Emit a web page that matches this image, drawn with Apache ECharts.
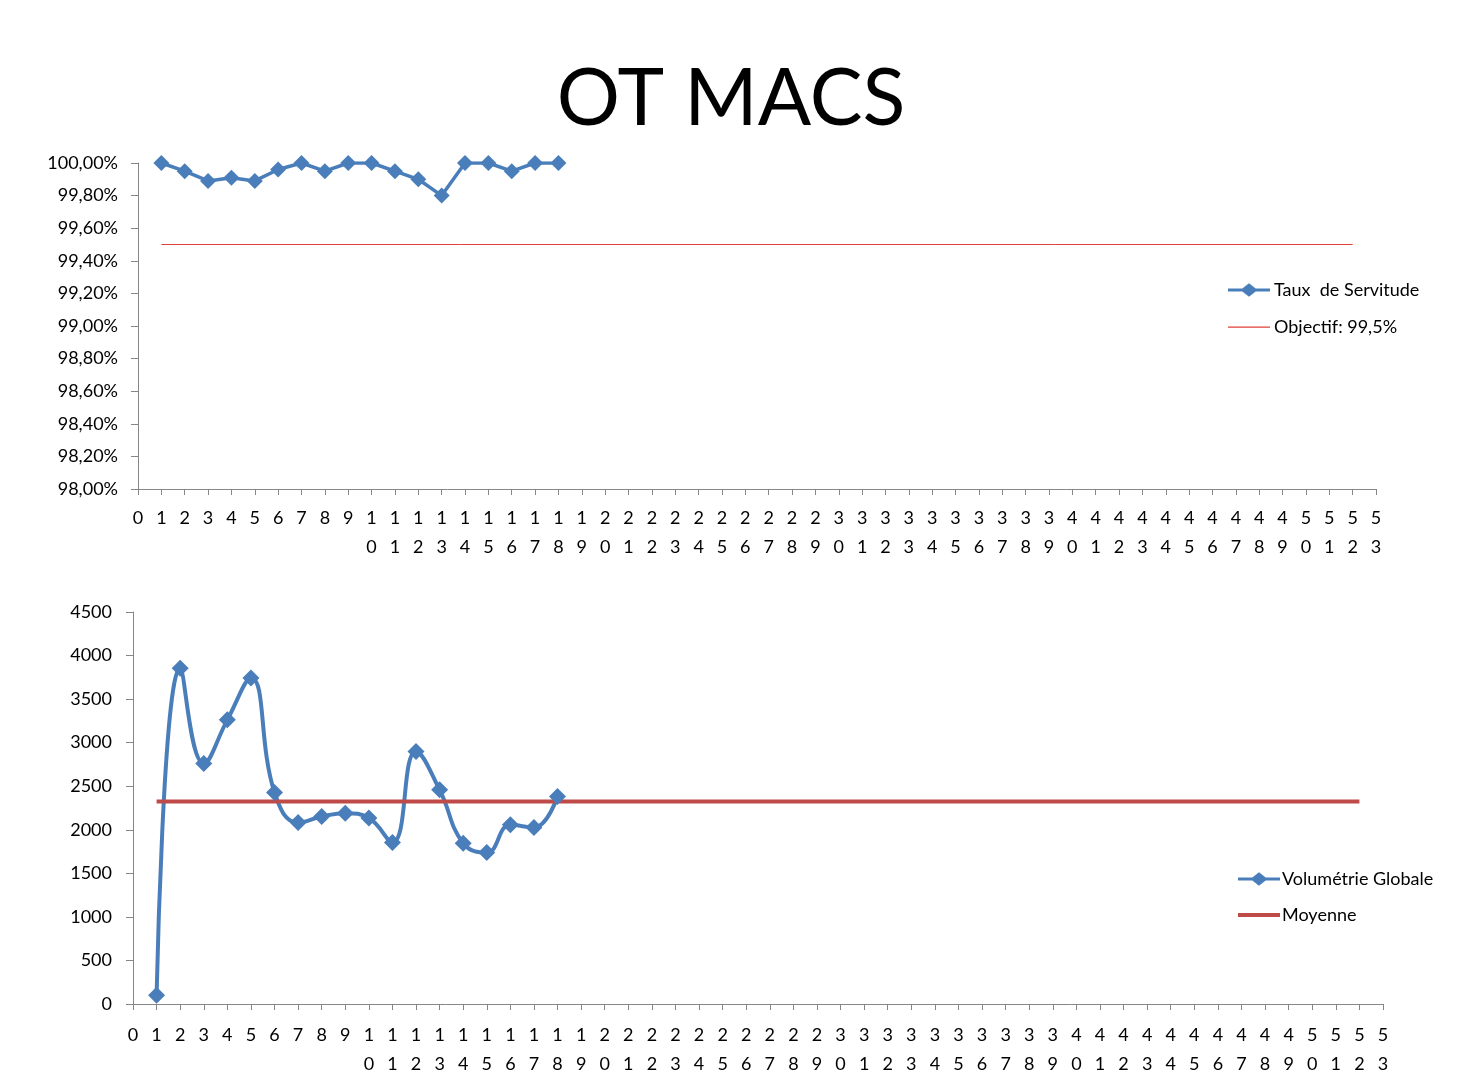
<!DOCTYPE html>
<html>
<head>
<meta charset="utf-8">
<script src="https://cdn.jsdelivr.net/npm/echarts@6/dist/echarts.min.js"></script>
<style>html,body{margin:0;padding:0;background:#fff}#c{width:1462px;height:1080px}</style>
</head>
<body>
<div id="c"></div>
<script>
// Category labels (weeks 0..53)
var categories = ['0','1','2','3','4','5','6','7','8','9','10','11','12','13','14','15','16','17','18','19','20','21','22','23','24','25','26','27','28','29','30','31','32','33','34','35','36','37','38','39','40','41','42','43','44','45','46','47','48','49','50','51','52','53'];

// Top chart: Taux de Servitude (%), weeks 1..18
var tauxWeeks = ['1','2','3','4','5','6','7','8','9','10','11','12','13','14','15','16','17','18'];
var tauxValues = [100.00, 99.95, 99.89, 99.91, 99.89, 99.96, 100.00, 99.95, 100.00, 100.00, 99.95, 99.90, 99.80, 100.00, 100.00, 99.95, 100.00, 100.00];
// Objective line 99,5% from week 1 to week 52
var objectifLine = [['1', 99.5], ['52', 99.5]];

// Bottom chart: Volumétrie Globale, weeks 1..18
var volumeValues = [100, 3855, 2760, 3262, 3742, 2428, 2083, 2152, 2191, 2134, 1853, 2899, 2459, 1846, 1738, 2057, 2026, 2382];
// Moyenne line from week 1 to week 52
var moyenneLine = [['1', 2325], ['52', 2325]];

var FONT = 'Lato';
var FS = 18;
var blue = '#4A7EBB';
var axisGray = '#868686';
var objRed = '#E0403A';
var moyRed = '#BE4B48';

var iconLineDiamond = 'path://M0,5.5L15,5.5L22,0L29,5.5L44,5.5L44,8.5L29,8.5L22,14L15,8.5L0,8.5Z';
var iconThin = 'path://M0,0L0.01,0L0,0Z M0,6.5L44,6.5L44,7.7L0,7.7Z M44,14L43.99,14L44,14Z';
var iconThick = 'path://M0,0L0.01,0L0,0Z M0,5L44,5L44,9L0,9Z M44,14L43.99,14L44,14Z';

function stackDigits(v) { return String(v).split('').join('\n'); }

function xAxisCfg(gridIndex, margin) {
  return {
    type: 'category', gridIndex: gridIndex, data: categories, boundaryGap: false,
    axisLine: { lineStyle: { color: axisGray, width: 1 } },
    axisTick: { alignWithLabel: true, length: 6, lineStyle: { color: axisGray } },
    axisLabel: { interval: 0, formatter: stackDigits, color: '#000', fontFamily: FONT, fontSize: FS, lineHeight: 29, margin: margin, verticalAlign: 'top' },
    splitLine: { show: false }
  };
}

var chart = echarts.init(document.getElementById('c'), null, { renderer: 'canvas' });
chart.setOption({
  animation: false,
  backgroundColor: '#fff',
  title: {
    text: 'OT MACS', left: 'center', top: 55,
    textStyle: { fontFamily: FONT, fontSize: 79, fontWeight: 'normal', color: '#000' }
  },
  grid: [
    { left: 138, right: 86, top: 163, bottom: 591, containLabel: false },
    { left: 133, right: 79, top: 612, bottom: 76, containLabel: false }
  ],
  legend: [
    { orient: 'vertical', left: 1228, top: 281, padding: 0, itemGap: 19, itemWidth: 42, itemHeight: 14,
      data: [
        { name: 'Taux  de Servitude', icon: iconLineDiamond },
        { name: 'Objectif: 99,5%', icon: iconThin }
      ],
      textStyle: { fontFamily: FONT, fontSize: FS, lineHeight: 14, color: '#000', padding: [0,0,0,-1] } },
    { orient: 'vertical', left: 1238, top: 870, padding: 0, itemGap: 18, itemWidth: 42, itemHeight: 14,
      data: [
        { name: 'Volumétrie Globale', icon: iconLineDiamond },
        { name: 'Moyenne', icon: iconThick }
      ],
      textStyle: { fontFamily: FONT, fontSize: FS, lineHeight: 14, color: '#000', padding: [0,0,0,-3] } }
  ],
  xAxis: [ xAxisCfg(0, 15), xAxisCfg(1, 17) ],
  yAxis: [
    { type: 'value', gridIndex: 0, min: 98, max: 100, interval: 0.2,
      axisLine: { show: true, lineStyle: { color: axisGray } },
      axisTick: { show: true, length: 7, lineStyle: { color: axisGray } },
      axisLabel: { formatter: function (v) { return v.toFixed(2).replace('.', ',') + '%'; }, color: '#000', fontFamily: FONT, fontSize: FS, margin: 20 },
      splitLine: { show: false } },
    { type: 'value', gridIndex: 1, min: 0, max: 4500, interval: 500,
      axisLine: { show: true, lineStyle: { color: axisGray } },
      axisTick: { show: true, length: 7, lineStyle: { color: axisGray } },
      axisLabel: { formatter: function (v) { return String(v); }, color: '#000', fontFamily: FONT, fontSize: FS, margin: 21 },
      splitLine: { show: false } }
  ],
  series: [
    { name: 'Taux  de Servitude', type: 'line', xAxisIndex: 0, yAxisIndex: 0,
      data: tauxWeeks.map(function (w, i) { return [w, tauxValues[i]]; }),
      symbol: 'diamond', symbolSize: 16, showAllSymbol: true,
      lineStyle: { color: blue, width: 3.5 }, itemStyle: { color: blue } },
    { name: 'Objectif: 99,5%', type: 'line', xAxisIndex: 0, yAxisIndex: 0,
      data: objectifLine, symbol: 'none',
      lineStyle: { color: objRed, width: 1 }, itemStyle: { color: objRed } },
    { name: 'Volumétrie Globale', type: 'line', xAxisIndex: 1, yAxisIndex: 1,
      data: tauxWeeks.map(function (w, i) { return [w, volumeValues[i]]; }),
      smooth: 0.45, symbol: 'diamond', symbolSize: 17, showAllSymbol: true,
      lineStyle: { color: blue, width: 4 }, itemStyle: { color: blue } },
    { name: 'Moyenne', type: 'line', xAxisIndex: 1, yAxisIndex: 1,
      data: moyenneLine, symbol: 'none',
      lineStyle: { color: moyRed, width: 4 }, itemStyle: { color: moyRed } }
  ]
});
</script>
</body>
</html>
